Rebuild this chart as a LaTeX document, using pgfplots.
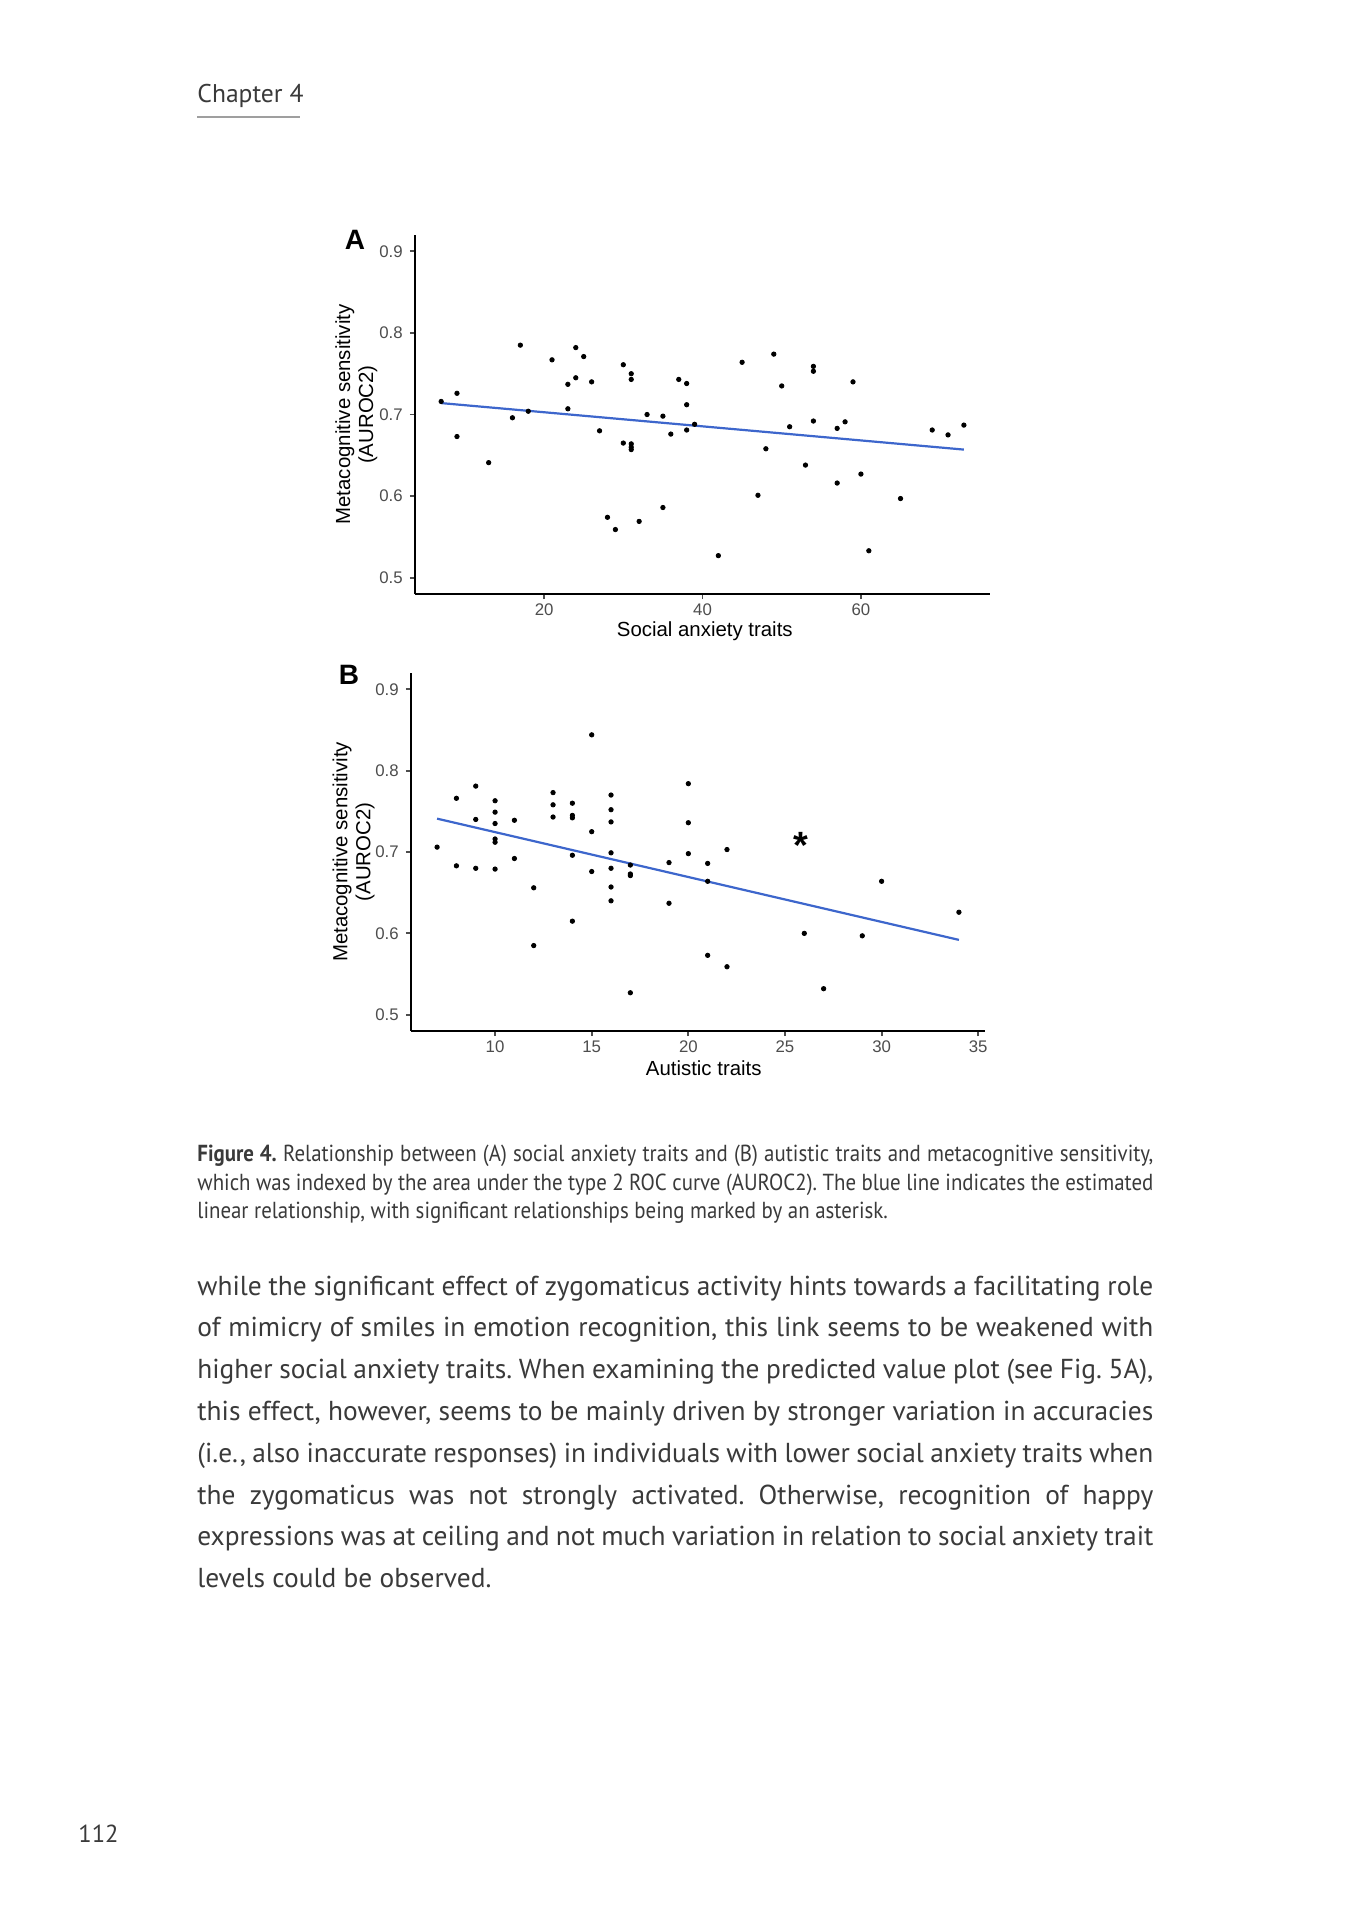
\documentclass[border=0pt]{standalone}
\usepackage{pgfplots}
\pgfplotsset{compat=1.18}
\usepackage{fontspec}
\setmainfont{PT Sans}
\newfontfamily\chartfont{Liberation Sans}
\newfontfamily\capfont[FakeStretch=0.9]{PT Sans}
\frenchspacing

\definecolor{fitblue}{HTML}{3D66CC}
\definecolor{tickgray}{HTML}{4D4D4D}
\definecolor{bodytext}{HTML}{3A3A3A}

% ggplot-like classic theme
\pgfplotsset{
  ggscatter/.style={
    scale only axis,
    axis lines=left,
    axis line style={-, black, line width=1pt},
    tick align=outside,
    major tick length=2.6pt,
    tick style={tickgray, line width=0.9pt},
    ymin=0.48, ymax=0.92,
    ytick={0.5,0.6,0.7,0.8,0.9},
    /pgf/number format/assume math mode=true,
    yticklabel style={/pgf/number format/.cd, fixed, fixed zerofill, precision=1},
    ticklabel style={font=\chartfont\fontsize{8.4}{9}\selectfont, text=tickgray},
    xticklabel style={yshift=1.2pt},
    label style={font=\chartfont\fontsize{10.2}{11.5}\selectfont, align=center},
    clip=false,
  },
  pts/.style={only marks, mark=*, mark size=1.1pt, black},
  fit/.style={no marks, fitblue, line width=1.1pt},
}

\newcommand{\jline}[1]{\makebox[478pt][s]{#1}}

\begin{document}
\begin{tikzpicture}[x=0.5pt, y=-0.5pt]
\path[use as bounding box, fill=white] (0,0) rectangle (1359,1920);

% running head
\node[anchor=base west, inner sep=0, font=\fontsize{12.8}{14}\selectfont, text=bodytext] at (197,103) {Chapter 4};
\draw[gray!75, line width=0.75pt] (197,117) -- (300,117);

% panel A
\coordinate (oA) at (415,594);
\begin{axis}[ggscatter, at={(oA)}, anchor=south west,
    width=287.5pt, height=179.5pt,
    xmin=3.7, xmax=76.3, xtick={20,40,60},
    xlabel={Social anxiety traits},
    ylabel={Metacognitive sensitivity\\(AUROC2)},
    xlabel style={at={(rel axis cs:0.504,-0.105)}, anchor=center},
    ylabel style={at={(rel axis cs:-0.102,0.5)}, anchor=center},
]
\addplot[pts] coordinates {
  (7,0.716) (9,0.726) (9,0.673) (13,0.641) (16,0.696) (17,0.785) (18,0.704)
  (21,0.767) (23,0.737) (23,0.707) (24,0.745) (24,0.782) (25,0.771) (26,0.740)
  (27,0.680) (28,0.574) (29,0.559) (30,0.761) (30,0.665) (31,0.750) (31,0.743)
  (31,0.664) (31,0.660) (31,0.657) (32,0.569) (33,0.700) (35,0.698) (35,0.586)
  (36,0.676) (37,0.743) (38,0.738) (38,0.712) (38,0.681) (39,0.688) (42,0.527)
  (45,0.764) (47,0.601) (48,0.658) (49,0.774) (50,0.735) (51,0.685) (53,0.638)
  (54,0.759) (54,0.753) (54,0.692) (57,0.616) (57,0.683) (58,0.691) (59,0.740)
  (60,0.627) (61,0.533) (65,0.597) (69,0.681) (71,0.675) (73,0.687)
};
\addplot[fit] coordinates {(7,0.714) (73,0.657)};
\end{axis}
\node[font=\chartfont\bfseries\fontsize{14}{14}\selectfont] at (355,240) {A};

% panel B
\coordinate (oB) at (411,1031);
\begin{axis}[ggscatter, at={(oB)}, anchor=south west,
    width=287pt, height=179pt,
    xmin=5.65, xmax=35.35, xtick={10,15,20,25,30,35},
    xlabel={Autistic traits},
    ylabel={Metacognitive sensitivity\\(AUROC2)},
    xlabel style={at={(rel axis cs:0.51,-0.103)}, anchor=center},
    ylabel style={at={(rel axis cs:-0.100,0.5)}, anchor=center},
]
\addplot[pts] coordinates {
  (7,0.706) (8,0.766) (8,0.683) (9,0.781) (9,0.740) (9,0.680) (10,0.763)
  (10,0.749) (10,0.735) (10,0.716) (10,0.712) (10,0.679) (11,0.739) (11,0.692)
  (12,0.656) (12,0.585) (13,0.773) (13,0.758) (13,0.743) (14,0.760) (14,0.745)
  (14,0.742) (14,0.696) (14,0.615) (15,0.844) (15,0.725) (15,0.676) (16,0.770)
  (16,0.752) (16,0.737) (16,0.699) (16,0.680) (16,0.657) (16,0.640) (17,0.684)
  (17,0.673) (17,0.671) (17,0.527) (19,0.687) (19,0.637) (20,0.784) (20,0.736)
  (20,0.698) (21,0.686) (21,0.664) (21,0.573) (22,0.703) (22,0.559) (26,0.600)
  (27,0.532) (29,0.597) (30,0.664) (34,0.626)
};
\addplot[fit] coordinates {(7,0.741) (34,0.592)};
\node[anchor=base, font=\chartfont\bfseries\fontsize{19}{19}\selectfont] at (axis cs:25.8,0.692) {*};
\end{axis}
\node[font=\chartfont\bfseries\fontsize{14}{14}\selectfont] at (349,675) {B};

% caption
\begin{scope}[every node/.style={anchor=base west, inner sep=0, text=bodytext, font=\capfont\fontsize{11.6}{13}\selectfont}]
\node at (197,1161) {\jline{\textbf{Figure 4.} Relationship between (A) social anxiety traits and (B) autistic traits and metacognitive sensitivity,}};
\node at (197,1190) {\jline{which was indexed by the area under the type 2 ROC curve (AUROC2). The blue line indicates the estimated}};
\node at (197,1218) {linear relationship, with significant relationships being marked by an asterisk.};
\end{scope}

% body text
\begin{scope}[every node/.style={anchor=base west, inner sep=0, text=bodytext, font=\fontsize{13.7}{15}\selectfont}]
\node at (197,1295.0) {\jline{while the significant effect of zygomaticus activity hints towards a facilitating role}};
\node at (197,1336.8) {\jline{of mimicry of smiles in emotion recognition, this link seems to be weakened with}};
\node at (197,1378.6) {\jline{higher social anxiety traits. When examining the predicted value plot (see Fig. 5A),}};
\node at (197,1420.4) {\jline{this effect, however, seems to be mainly driven by stronger variation in accuracies}};
\node at (197,1462.2) {\jline{(i.e., also inaccurate responses) in individuals with lower social anxiety traits when}};
\node at (197,1504.0) {\jline{the zygomaticus was not strongly activated. Otherwise, recognition of happy}};
\node at (197,1545.8) {\jline{expressions was at ceiling and not much variation in relation to social anxiety trait}};
\node at (197,1587.6) {levels could be observed.};
\end{scope}

% page number
\node[anchor=base west, inner sep=0, text=bodytext, font=\fontsize{12.3}{14}\selectfont] at (78,1842) {112};
\end{tikzpicture}
\end{document}
